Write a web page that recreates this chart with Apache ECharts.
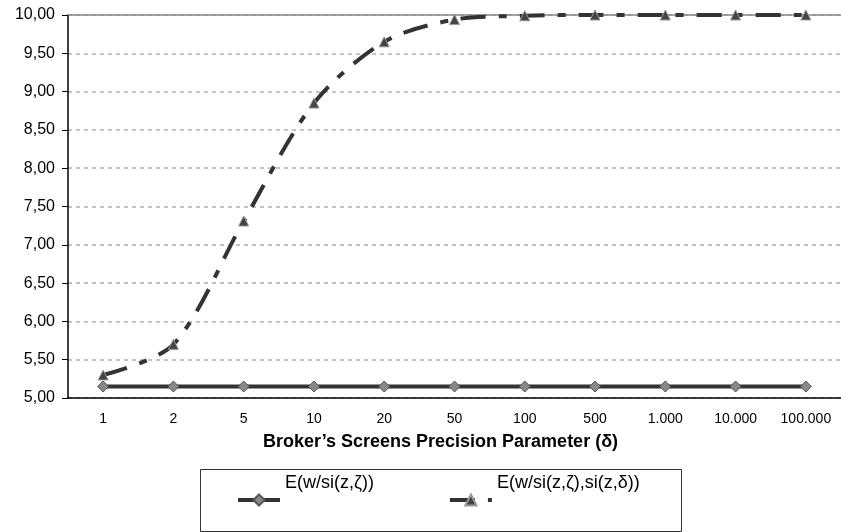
<!DOCTYPE html>
<html>
<head>
<meta charset="utf-8">
<script src="https://cdn.jsdelivr.net/npm/echarts@6/dist/echarts.min.js"></script>
<style>html,body{margin:0;padding:0;background:#fff;}#c{width:841px;height:532px;}</style>
</head>
<body>
<div id="c"></div>
<script>
var categories = ['1','2','5','10','20','50','100','500','1.000','10.000','100.000'];
var seriesNames = ['E(w/si(z,\u03B6))', 'E(w/si(z,\u03B6),si(z,\u03B4))'];
var seriesA = [5.15, 5.15, 5.15, 5.15, 5.15, 5.15, 5.15, 5.15, 5.15, 5.15, 5.15];
var seriesB = [5.30, 5.70, 7.31, 8.85, 9.65, 9.94, 9.99, 10.00, 10.00, 10.00, 10.00];
var yMin = 5, yMax = 10, yStep = 0.5;
var xAxisName = 'Broker\u2019s Screens Precision Parameter (\u03B4)';

var font = 'Liberation Sans, Arial, sans-serif';
var chart = echarts.init(document.getElementById('c'));
chart.setOption({
  backgroundColor: '#fff',
  animation: false,
  textStyle: {fontFamily: font},
  grid: {left: 68, right: 0, top: 15, bottom: 134},
  graphic: [{
    type: 'rect', left: 200, top: 469, z: 0,
    shape: {width: 481, height: 62},
    style: {fill: '#fff', stroke: '#333', lineWidth: 1}
  }],
  legend: {
    left: 231, top: 469, z: 10,
    itemWidth: 42, itemHeight: 14, itemGap: 74,
    padding: 5,
    formatter: function (n) { return '{t|' + n + '}\n{s|\u00A0}'; },
    textStyle: {
      fontSize: 18, color: '#000', fontFamily: font,
      rich: {
        t: {fontSize: 18, lineHeight: 22, color: '#000', fontFamily: font},
        s: {fontSize: 2, lineHeight: 34}
      }
    },
    data: [
      {name: seriesNames[0], lineStyle: {width: 4, color: '#333'}},
      {name: seriesNames[1], lineStyle: {width: 4, color: '#333'}}
    ]
  },
  xAxis: [{
    type: 'category', data: categories, boundaryGap: true,
    axisLine: {lineStyle: {color: '#000', width: 1.5}},
    axisTick: {alignWithLabel: false, length: 5, lineStyle: {color: '#000', width: 1}},
    axisLabel: {fontSize: 14, color: '#000', margin: 14, interval: 0},
    name: xAxisName, nameLocation: 'middle', nameGap: 35,
    nameTextStyle: {fontSize: 18, fontWeight: 'bold', color: '#000', padding: [0, 28, 0, 0]}
  }, {
    type: 'category', data: categories, position: 'top',
    axisLine: {show: true, lineStyle: {color: '#888', width: 1.5}},
    axisTick: {show: false}, axisLabel: {show: false}
  }],
  yAxis: {
    type: 'value', min: yMin, max: yMax, interval: yStep,
    axisLine: {show: true, lineStyle: {color: '#000', width: 1.5}},
    axisTick: {show: true, length: 6, lineStyle: {color: '#000', width: 1}},
    axisLabel: {fontSize: 16, color: '#000', margin: 13,
      formatter: function (v) { return v.toFixed(2).replace('.', ','); }},
    splitLine: {show: true, lineStyle: {color: '#b0b0b0', width: 1.5, type: [4, 4]}}
  },
  series: [{
    name: seriesNames[0], type: 'line', data: seriesA,
    symbol: 'diamond', symbolSize: 11, showSymbol: true,
    lineStyle: {color: '#333', width: 4},
    itemStyle: {color: '#888', borderColor: '#555', borderWidth: 1},
    z: 3
  }, {
    name: seriesNames[1], type: 'line', data: seriesB, smooth: 0.3,
    symbol: 'triangle', symbolSize: 10, showSymbol: true,
    lineStyle: {color: '#333', width: 4, type: [25, 13, 8, 13]},
    itemStyle: {color: '#444', borderColor: '#999', borderWidth: 1},
    z: 4
  }]
});
</script>
</body>
</html>
